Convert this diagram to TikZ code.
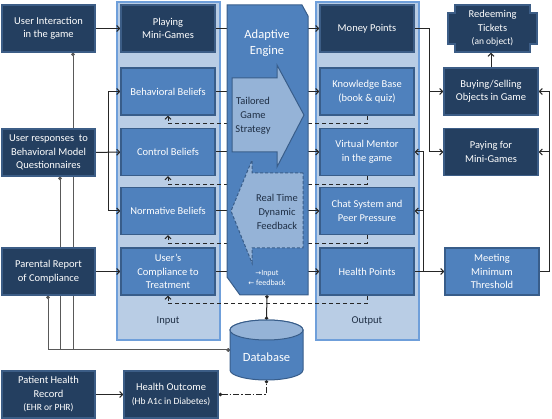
\documentclass[tikz,border=0pt]{standalone}
\usepackage{fontspec}
\setmainfont{Carlito}
\newfontfamily\arrowfont{DejaVu Sans}
\usetikzlibrary{arrows.meta}

\definecolor{navyfill}{HTML}{243F60}
\definecolor{navyline}{HTML}{3C5D86}
\definecolor{medblue}{HTML}{4F81BD}
\definecolor{medline}{HTML}{385D8A}
\definecolor{panelfill}{HTML}{B9CDE5}
\definecolor{panelline}{HTML}{6F9FDA}
\definecolor{softblue}{HTML}{95B3D7}
\definecolor{wire}{HTML}{262626}
\definecolor{labeltext}{HTML}{1F2F45}

\newcommand{\subline}[1]{{\fontsize{9.5}{12}\selectfont #1}}

\pgfdeclarelayer{panels}
\pgfdeclarelayer{wires}
\pgfsetlayers{panels,wires,main}

\tikzset{
  box/.style={minimum width=94pt, minimum height=47pt, inner sep=1pt, align=center,
    text=white, font=\fontsize{10.5}{13.5}\selectfont, line width=1.2pt},
  darkbox/.style={box, fill=navyfill, draw=navyline},
  beliefbox/.style={box, fill=medblue, draw=medline},
  panel/.style={fill=panelfill, draw=panelline, line width=1.5pt},
  paneltext/.style={font=\fontsize{10.5}{13.5}\selectfont, text=labeltext},
  arrowtext/.style={align=center, font=\fontsize{10.5}{14}\selectfont, text=labeltext},
  link/.style={draw=wire, line width=1pt},
  arr/.style={link, -{Straight Barb[length=3pt,width=6pt]}},
  fb/.style={arr, dash pattern=on 4pt off 3pt},
  dbline/.style={link, draw=black!65, {Circle[length=3.5pt]}-{Circle[length=3.5pt]}}
}

\begin{document}
\begin{tikzpicture}[x=1pt,y=-1pt]
\useasboundingbox (0,0) rectangle (552,419);

% input / output panels
\begin{pgfonlayer}{panels}
  \draw[panel] (117,2) rectangle (220,340);
  \draw[panel] (316,2) rectangle (419,340);
\end{pgfonlayer}
\node[paneltext] (inlbl) at (168,321) {Input};
\node[paneltext] (outlbl) at (367,321) {Output};

% adaptive engine
\draw[fill=medblue, draw=medline, line width=1pt]
  (227,5) -- (302,5) -- (308,16) -- (308,295) -- (240,295) -- (227,277) -- cycle;
\node[text=white, align=center, font=\fontsize{12.5}{16}\selectfont] (eng) at (267,43) {Adaptive\\Engine};
\draw[fill=softblue, draw=medline, line width=1pt]
  (232,78) -- (277,78) -- (277,65) -- (304,115) -- (277,167) -- (277,152) -- (232,152) -- cycle;
\node[arrowtext] (tgs) at (253,116) {Tailored\\Game\\Strategy};
\draw[fill=softblue, draw=medline, line width=1pt, dash pattern=on 3pt off 2pt]
  (303,173) -- (252,173) -- (252,160) -- (231,211) -- (252,263) -- (252,248) -- (303,248) -- cycle;
\node[arrowtext] (rtf) at (277,212) {Real Time\\Dynamic\\Feedback};
\node[text=white, align=center, font=\fontsize{8}{10.5}\selectfont] (io) at (267,278)
  {{\arrowfont\fontsize{7}{10}\selectfont →}Input\\{\arrowfont\fontsize{7}{10}\selectfont ←} feedback};
\coordinate (engW) at (227,0);
\coordinate (engE) at (308,0);
\coordinate (engS) at (267,295);

% database
\draw[fill=medblue, draw=medline, line width=1pt]
  (230,330) -- (230,370) arc[start angle=180, end angle=0, x radius=36.5, y radius=10]
  -- (303,330) arc[start angle=0, end angle=-180, x radius=36.5, y radius=10] -- cycle;
\draw[fill=softblue, draw=medline, line width=1pt] (266.5,330) ellipse [x radius=36.5, y radius=10];
\node[text=white, font=\fontsize{12.5}{15}\selectfont] (dbtext) at (266.5,357) {Database};
\coordinate (dbW) at (230,350);
\coordinate (dbN) at (266.5,320);
\coordinate (dbS) at (266.5,380);

% left column
\node[darkbox, minimum width=93pt] (ui) at (48.5,28.5) {User Interaction\\in the game};
\node[darkbox, minimum width=93pt] (urq) at (48.5,152.5) {User responses\ \ to\\Behavioral Model\\Questionnaires};
\node[darkbox, minimum width=93pt] (prc) at (48.5,271.5) {Parental Report\\of Compliance};
\node[darkbox, minimum width=93pt] (phr) at (48.5,394.5) {Patient Health\\Record\\\subline{(EHR or PHR)}};
\node[darkbox] (ho) at (171,394.5) {Health Outcome\\\subline{(Hb A1c in Diabetes)}};

% input boxes
\node[darkbox] (pmg) at (168,28.5) {Playing\\Mini-Games};
\node[beliefbox] (bb) at (168,91.5) {Behavioral Beliefs};
\node[beliefbox] (cb) at (168,152) {Control Beliefs};
\node[beliefbox] (nb) at (168,211) {Normative Beliefs};
\node[beliefbox] (uct) at (168,271.5) {User’s\\Compliance to\\Treatment};

% output boxes
\node[darkbox] (mp) at (367,28.5) {Money Points};
\node[beliefbox] (kb) at (367,91.5) {Knowledge Base\\(book \& quiz)};
\node[beliefbox] (vm) at (367,152) {Virtual Mentor\\in the game};
\node[beliefbox] (cs) at (367,211) {Chat System and\\Peer Pressure};
\node[beliefbox] (hp) at (367,271.5) {Health Points};

% right column
\fill[navyfill, draw=navyline, line width=1.2pt]
  (455,5) -- (530,5) -- (530,13) -- (537,13) -- (537,44) -- (530,44) -- (530,52)
  -- (455,52) -- (455,44) -- (448,44) -- (448,13) -- (455,13) -- cycle;
\node[box] (rt) at (492.5,28.5) {Redeeming\\Tickets\\\subline{(an object)}};
\node[darkbox] (bs) at (491,91.5) {Buying/Selling\\Objects in Game};
\node[darkbox] (pay) at (491,152) {Paying for\\Mini-Games};
\node[beliefbox] (mmt) at (492,271.5) {Meeting\\Minimum\\Threshold};

\begin{pgfonlayer}{wires}
  % into the input panel
  \draw[arr] (ui) -- (pmg);
  \draw[arr] (urq) -- (cb);
  \draw[arr] (prc) -- (uct);
  \draw[arr] (phr) -- (ho);
  \coordinate (qbranch) at (108,152);
  \draw[arr] (qbranch) |- (bb.west);
  \draw[arr] (qbranch) |- (nb.west);

  % to the database
  \draw[dbline] ([xshift=24.5pt]ui.south) |- (dbW);
  \draw[dbline] ([xshift=11.5pt]urq.south) |- (dbW);
  \draw[dbline] ([xshift=-0.5pt]prc.south) |- (dbW);
  \draw[link, {Circle[length=3.5pt]}-{Circle[length=3.5pt]}] (engS) -- (dbN);
  \draw[link, dash pattern=on 6pt off 2pt on 1.5pt off 2pt,
        {Circle[length=3.5pt]}-{Circle[length=3.5pt]}] (ho.east) -| (dbS);

  % through the engine
  \foreach \inbox/\outbox in {pmg/mp, bb/kb, cb/vm, nb/cs, uct/hp} {
    \draw[link] (\inbox.east) -- (\inbox.east -| engW);
    \draw[arr] (\outbox.west -| engE) -- (\outbox.west);
  }
  \foreach \outbox/\inbox in {kb/bb, vm/cb, cs/nb, hp/uct}
    \draw[fb] (\outbox.south) -- ++(0,8) -| (\inbox.south);

  % output side
  \draw[arr] (mp.east) -- ++(15,0) |- (bs.west);
  \draw[arr] (mp.east) -- ++(15,0) |- (pay.west);
  \draw[arr] (bs.north) -- (bs.north |- rt.south);
  \draw[arr] (hp) -- (mmt);
  \coordinate (hpbranch) at (423,271.5);
  \draw[arr] (hpbranch) |- (vm.east);
  \draw[arr] (hpbranch) |- (cs.east);
  \draw[arr] (mmt.east) -- ++(10,0) |- (bs.east);
  \draw[arr] (mmt.east) -- ++(10,0) |- (pay.east);
\end{pgfonlayer}
\end{tikzpicture}
\end{document}
